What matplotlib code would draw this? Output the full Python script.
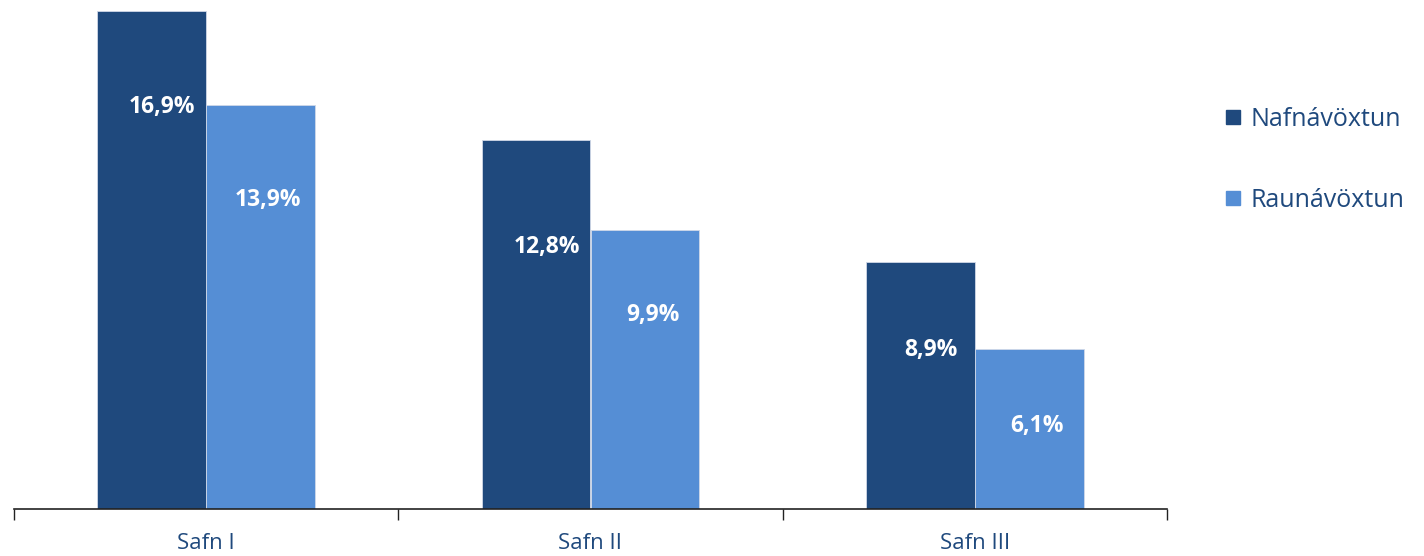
from matplotlib import pyplot as plt
from matplotlib.lines import Line2D
import numpy as np

categories = ['Safn I', 'Safn II', 'Safn III']
nafn = [16.9, 12.8, 8.9]
raun = [13.9, 9.9, 6.1]
series_names = ['Nafnávöxtun', 'Raunávöxtun']

# where each value label sits (data units)
nafn_label_y = [13.84, 9.37, 6.08]
raun_label_y = [10.87, 7.20, 3.65]


def fmt(v):
    return f'{v:.1f}%'.replace('.', ',')


def main():
    plt.rcParams['font.family'] = ['Open Sans', 'DejaVu Sans']

    dark = '#1F497D'
    light = '#558ED5'
    text_col = '#1F497D'

    fig = plt.figure(figsize=(14.24, 5.56), dpi=100)
    ax = fig.add_axes([14 / 1424, 47 / 556, (1167 - 14) / 1424, (509 - 8) / 556])

    x = np.arange(len(categories))
    w = 0.283
    ax.bar(x - w / 2, nafn, w, bottom=0, color=dark, edgecolor='#d0d8e8', linewidth=0.6)
    ax.bar(x + w / 2, raun, w, bottom=0, color=light, edgecolor='#d0d8e8', linewidth=0.6)

    for i in range(len(categories)):
        ax.text(x[i] - w / 2 + 0.027, nafn_label_y[i], fmt(nafn[i]), color='white',
                fontsize=16.5, fontweight='bold', ha='center', va='center')
        ax.text(x[i] + w / 2 + 0.02, raun_label_y[i], fmt(raun[i]), color='white',
                fontsize=16.5, fontweight='bold', ha='center', va='center')

    ax.set_xlim(-0.5, len(categories) - 0.5)
    ax.set_ylim(1, 17)

    for s in ['top', 'right', 'left']:
        ax.spines[s].set_visible(False)
    ax.spines['bottom'].set_color('#222222')
    ax.spines['bottom'].set_linewidth(1.2)
    ax.set_yticks([])

    ax.set_xticks(np.arange(-0.5, len(categories), 1.0))
    ax.set_xticklabels([])
    ax.tick_params(axis='x', length=8, width=1.0, color='#222222')
    ax.set_xticks(x, minor=True)
    ax.set_xticklabels(categories, minor=True, fontsize=16, color=text_col)
    ax.tick_params(axis='x', which='minor', length=0, pad=17)

    handles = [Line2D([], [], marker='s', linestyle='none', markersize=10,
                      markerfacecolor=c, markeredgecolor=c) for c in (dark, light)]
    leg = fig.legend(handles, series_names, loc='center left',
                     bbox_to_anchor=(1203 / 1424, (556 - 160) / 556),
                     frameon=False, fontsize=18, labelspacing=2.25,
                     handlelength=0.6, handletextpad=0.4)
    for t in leg.get_texts():
        t.set_color(text_col)

    fig.savefig('out.png', dpi=100)


if __name__ == "__main__":
    main()
